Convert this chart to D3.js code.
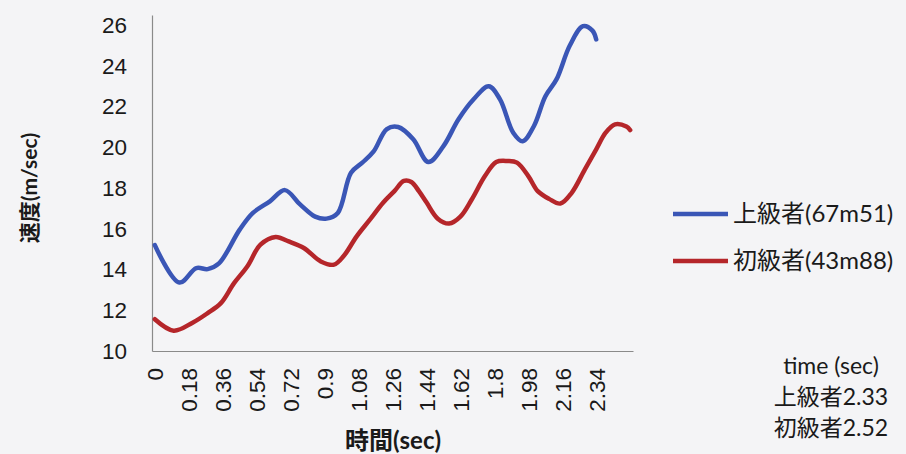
<!DOCTYPE html>
<html>
<head>
<meta charset="utf-8">
<script src="https://cdn.jsdelivr.net/npm/d3@7"></script>
<style>
  body { margin: 0; background: #f4f4f6; }
  svg { display: block; font-family: Lato, "Noto Sans CJK JP", sans-serif; }
  .tick text { fill: #1a1a1a; }
</style>
</head>
<body>
<div id="chart"></div>
<script>
// values (time in sec, speed in m/sec)
const advTime = [0, 0.13, 0.22, 0.28, 0.34, 0.45, 0.52, 0.61, 0.69, 0.77, 0.85, 0.91, 0.97,
  1.04, 1.1, 1.16, 1.23, 1.29, 1.37, 1.45, 1.53, 1.61, 1.69, 1.77, 1.83, 1.9, 1.95,
  2.01, 2.07, 2.13, 2.2, 2.27, 2.32, 2.34];
const advSpeed = [15.2, 13.36, 14.07, 14.02, 14.3, 15.96, 16.78, 17.35, 17.9, 17.2, 16.6, 16.5, 16.78,
  18.75, 19.25, 19.8, 20.9, 21.0, 20.4, 19.28, 20.06, 21.38, 22.36, 23.0, 22.36, 20.72, 20.3,
  21.05, 22.5, 23.35, 25.0, 25.95, 25.73, 25.3];

const begTime = [0, 0.1, 0.2, 0.28, 0.35, 0.42, 0.49, 0.56, 0.64, 0.71, 0.79, 0.88, 0.95,
  1.0, 1.07, 1.14, 1.21, 1.27, 1.32, 1.36, 1.4, 1.44, 1.5, 1.56, 1.62, 1.68, 1.75, 1.81, 1.87,
  1.92, 1.98, 2.03, 2.09, 2.15, 2.21, 2.28, 2.34, 2.39, 2.44, 2.5, 2.52];
const begSpeed = [11.56, 11.0, 11.39, 11.86, 12.35, 13.33, 14.15, 15.22, 15.6, 15.38, 15.06, 14.4, 14.24,
  14.65, 15.63, 16.45, 17.28, 17.85, 18.35, 18.3, 17.85, 17.3, 16.5, 16.26, 16.6, 17.44, 18.59, 19.28, 19.33,
  19.25, 18.59, 17.85, 17.47, 17.24, 17.77, 18.92, 19.9, 20.72, 21.13, 21.02, 20.85];

const xTicks = [0, 0.18, 0.36, 0.54, 0.72, 0.9, 1.08, 1.26, 1.44, 1.62, 1.8, 1.98, 2.16, 2.34];
const yTicks = [10, 12, 14, 16, 18, 20, 22, 24, 26];

const seriesNames = ["上級者(67m51)", "初級者(43m88)"];
const seriesColors = ["#3a56b6", "#b5262a"];
const noteLines = ["time (sec)", "上級者2.33", "初級者2.52"];

const width = 906;
const height = 454;

const svg = d3.select("#chart").append("svg")
  .attr("width", width)
  .attr("height", height);

svg.append("rect").attr("width", width).attr("height", height).attr("fill", "#f4f4f6");

const x = d3.scaleLinear().domain([-0.015, 2.535]).range([152, 633]);
const y = d3.scaleLinear().domain([10, 26.5]).range([351, 15]);

// axes
const yAxis = svg.append("g")
  .attr("transform", "translate(152,0)")
  .call(d3.axisLeft(y).tickValues(yTicks).tickSize(0).tickPadding(25));
yAxis.select(".domain").attr("stroke", "#8a8a8a").attr("stroke-width", 1.2);
yAxis.selectAll("text").style("font-size", "22.5px");

const xAxis = svg.append("g")
  .attr("transform", "translate(0,351)")
  .call(d3.axisBottom(x).tickValues(xTicks).tickSize(0).tickFormat(d3.format("")));
xAxis.select(".domain").attr("stroke", "#8a8a8a").attr("stroke-width", 1.2);
xAxis.selectAll("text")
  .attr("y", 0)
  .attr("x", -17)
  .attr("dy", "0.35em")
  .attr("transform", "rotate(-90)")
  .style("text-anchor", "end")
  .style("font-size", "22.5px");

// lines
const line = d3.line()
  .x((d) => x(d[0]))
  .y((d) => y(d[1]))
  .curve(d3.curveCatmullRom.alpha(0.5));

const series = [
  d3.zip(advTime, advSpeed),
  d3.zip(begTime, begSpeed),
];

svg.selectAll(".series")
  .data(series)
  .join("path")
  .attr("class", "series")
  .attr("fill", "none")
  .attr("stroke", (d, i) => seriesColors[i])
  .attr("stroke-width", 4.5)
  .attr("stroke-linecap", "round")
  .attr("stroke-linejoin", "round")
  .attr("d", line);

// axis titles
svg.append("text")
  .attr("transform", "translate(30,188) rotate(-90)")
  .attr("text-anchor", "middle")
  .attr("dy", "0.35em")
  .style("font-size", "21px")
  .style("font-weight", "bold")
  .attr("fill", "#1a1a1a")
  .text("速度(m/sec)");

svg.append("text")
  .attr("x", 393)
  .attr("y", 449)
  .attr("text-anchor", "middle")
  .style("font-size", "24px")
  .style("font-weight", "bold")
  .attr("fill", "#1a1a1a")
  .text("時間(sec)");

// legend
const legend = svg.selectAll(".legend")
  .data(seriesNames)
  .join("g")
  .attr("class", "legend")
  .attr("transform", (d, i) => `translate(673,${214 + i * 47})`);

legend.append("line")
  .attr("x1", 0).attr("x2", 55)
  .attr("stroke", (d, i) => seriesColors[i])
  .attr("stroke-width", 4.5);

legend.append("text")
  .attr("x", 60)
  .attr("dy", "0.35em")
  .style("font-size", "24px")
  .attr("fill", "#1a1a1a")
  .text((d) => d);

// note
svg.selectAll(".note")
  .data(noteLines)
  .join("text")
  .attr("class", "note")
  .attr("x", 831)
  .attr("y", (d, i) => 366 + i * 31)
  .attr("dy", "0.35em")
  .attr("text-anchor", "middle")
  .style("font-size", "23px")
  .attr("fill", "#1a1a1a")
  .text((d) => d);
</script>
</body>
</html>
